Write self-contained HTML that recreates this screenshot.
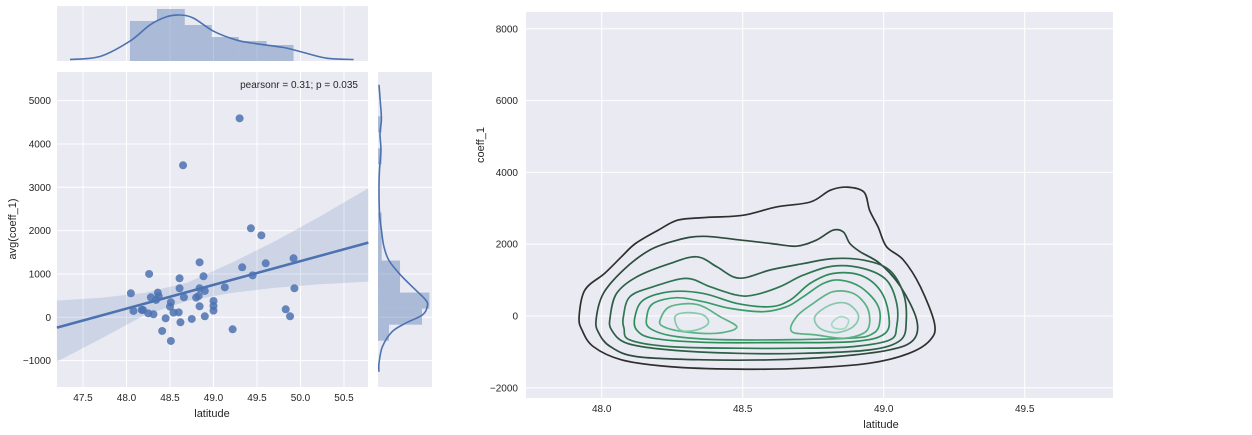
<!DOCTYPE html>
<html><head><meta charset="utf-8"><style>
body{margin:0;background:#fff;width:1252px;height:430px;overflow:hidden}
svg{font-family:"Liberation Sans",sans-serif;font-size:10px;fill:#262626}
</style></head><body>
<svg id="c" width="1252" height="430"></svg>
<script>
// ---- data ----
const scatterLat=[48.05,48.08,48.175,48.19,48.26,48.28,48.25,48.31,48.36,48.37,48.34,48.45,48.41,48.51,48.50,48.51,48.54,48.61,48.61,48.60,48.66,48.65,48.62,48.75,48.80,48.83,48.84,48.84,48.84,48.885,48.90,48.90,49.0,49.0,49.0,49.13,49.22,49.30,49.33,49.43,49.45,49.55,49.60,49.83,49.88,49.92,49.93];
const scatterVal=[554,146,169,169,1000,462,92,69,569,485,400,-23,-315,346,246,-546,108,900,669,115,462,3508,-115,-38,454,492,1269,669,254,946,608,23,377,262,154,692,-277,4592,1154,2054,969,1892,1246,185,23,1362,669];
const regLat=[47.2,47.7,48.2,48.7,49.2,49.7,50.2,50.78];
const regLine=[-238,36,310,584,858,1132,1406,1723];
const regUpper=[385,450,560,800,1250,1750,2300,2977];
const regLower=[-1023,-500,40,380,560,680,760,823];
const histXEdges=[48.04,48.35,48.67,48.98,49.29,49.61,49.92];
const histXCounts=[10,13,9,6,5,4];
const kdeXLat=[47.35,47.70,48.04,48.27,48.46,48.61,48.77,49.0,49.27,49.50,49.80,50.03,50.30,50.61];
const kdeXDen=[0.01,0.08,0.42,0.78,0.96,1,0.93,0.64,0.44,0.36,0.28,0.17,0.04,0.01];
const histYEdges=[-540,-170,200,570,940,1310,1680,2050,2420,2790,3160,3530,3900,4270,4640];
const histYCounts=[3,12,14,6,6,1,1,1,0,0,0,1,0,1];
const kdeYVal=[5365,4942,4557,4249,3864,3402,3016,2402,2016,1631,1323,1016,708,400,245,53,-139,-332,-679,-1062,-1256];
const kdeYDen=[0.01,0.04,0.06,0.03,0.05,0.02,0.01,0.02,0.06,0.11,0.21,0.42,0.69,0.97,1,0.90,0.55,0.28,0.08,0.01,0.01];
const xTicksL=[47.5,48.0,48.5,49.0,49.5,50.0,50.5];
const yTicksL=[-1000,0,1000,2000,3000,4000,5000];
const xTicksR=[48.0,48.5,49.0,49.5];
const yTicksR=[-2000,0,2000,4000,6000,8000];
const contourColors=['#2f2f2f','#2e4a3c','#2d5e46','#2e7550','#2f8a5a','#3a9d69','#5ab285','#86c8ab','#a6d9c4','#a6d9c4','#b4e0d0','#b4e0d0'];
const contours=[
[[47.92,-20],[47.94,720],[48.01,1185],[48.07,1650],[48.12,2020],[48.2,2390],[48.27,2670],[48.36,2740],[48.5,2805],[48.62,3040],[48.74,3175],[48.81,3500],[48.87,3590],[48.93,3450],[48.95,2945],[48.98,2480],[49.01,1930],[49.07,1560],[49.13,815],[49.18,-205],[49.165,-670],[49.09,-1040],[48.95,-1315],[48.72,-1455],[48.48,-1480],[48.24,-1410],[48.07,-1220],[47.97,-850],[47.93,-390]],
[[47.98,-110],[48.006,630],[48.077,1280],[48.17,1835],[48.266,2110],[48.36,2220],[48.5,2110],[48.6,2020],[48.69,1945],[48.76,2110],[48.82,2390],[48.857,2340],[48.88,2020],[48.916,1790],[48.987,1460],[49.06,815],[49.117,-110],[49.105,-670],[49.02,-945],[48.83,-1130],[48.6,-1220],[48.36,-1220],[48.124,-1130],[48.03,-850],[47.99,-480]],
[[48.03,-20],[48.053,630],[48.124,1090],[48.242,1460],[48.337,1650],[48.408,1370],[48.467,1090],[48.514,1075],[48.597,1280],[48.715,1460],[48.82,1600],[48.93,1555],[49.02,1280],[49.07,630],[49.08,-110],[49.06,-670],[48.95,-945],[48.715,-1040],[48.48,-1040],[48.24,-945],[48.09,-760],[48.035,-390]],
[[48.077,-20],[48.10,537],[48.183,815],[48.30,1046],[48.384,815],[48.479,583],[48.538,583],[48.632,815],[48.715,1139],[48.82,1389],[48.928,1324],[49.01,1000],[49.046,352],[49.046,-296],[49.022,-667],[48.892,-852],[48.715,-898],[48.479,-898],[48.242,-852],[48.10,-667],[48.079,-343]],
[[48.118,-20],[48.148,444],[48.242,676],[48.36,630],[48.479,352],[48.597,259],[48.668,444],[48.739,907],[48.82,1185],[48.916,1139],[48.987,722],[49.017,74],[49.005,-482],[48.892,-713],[48.597,-741],[48.36,-732],[48.183,-620],[48.124,-389]],
[[48.16,-20],[48.183,352],[48.266,509],[48.36,398],[48.455,213],[48.573,120],[48.656,259],[48.715,537],[48.786,907],[48.845,1000],[48.916,815],[48.975,352],[48.987,-111],[48.963,-482],[48.869,-620],[48.479,-667],[48.266,-574],[48.171,-343]],
[[48.207,-111],[48.242,259],[48.337,324],[48.42,-20],[48.479,-315],[48.408,-482],[48.29,-435],[48.219,-296]],
[[48.674,-435],[48.691,-20],[48.75,352],[48.82,676],[48.892,630],[48.94,259],[48.95,-204],[48.928,-482],[48.857,-620],[48.762,-528]],
[[48.26,-20],[48.30,93],[48.36,28],[48.378,-204],[48.337,-389],[48.278,-389]],
[[48.756,-20],[48.81,306],[48.869,352],[48.91,28],[48.892,-296],[48.833,-463],[48.774,-343]],
[[48.816,-204],[48.845,-20],[48.875,-111],[48.862,-343],[48.827,-343]]
];
const contourLevelIdx=[0,1,2,3,4,5,6,6,7,7,8];

// ---- helpers ----
const NS='http://www.w3.org/2000/svg';
const svg=document.getElementById('c');
function mk(tag,attrs,name,parent){
  const e=document.createElementNS(NS,tag);
  for(const k in attrs)e.setAttribute(k,attrs[k]);
  
  
  (parent||svg).appendChild(e);return e;
}
function txt(x,y,s,anchor,name,extra){const t=mk('text',Object.assign({x:x,y:y,'text-anchor':anchor||'middle'},extra||{}),name);t.textContent=s;return t;}
// main left axes
const L={x0:57,x1:368,y0:72,y1:387};
const lx=v=>83+(v-47.5)*87;
const ly=v=>317.3-v*0.04333;
// right axes
const R={x0:526,x1:1113,y0:12,y1:398};
const rx=v=>601.7+(v-48)*282;
const ry=v=>316-v*0.0359;

function frame(a,name){mk('rect',{x:a.x0,y:a.y0,width:a.x1-a.x0,height:a.y1-a.y0,fill:'#eaeaf2'},name);}
function smooth(pts,closed){
  const n=pts.length;let d='M'+pts[0][0].toFixed(1)+','+pts[0][1].toFixed(1);
  const get=i=>closed?pts[(i+n)%n]:pts[Math.max(0,Math.min(n-1,i))];
  const m=closed?n:n-1;
  for(let i=0;i<m;i++){const p0=get(i-1),p1=get(i),p2=get(i+1),p3=get(i+2);
    const c1=[p1[0]+(p2[0]-p0[0])/6,p1[1]+(p2[1]-p0[1])/6],c2=[p2[0]-(p3[0]-p1[0])/6,p2[1]-(p3[1]-p1[1])/6];
    d+='C'+c1[0].toFixed(1)+','+c1[1].toFixed(1)+' '+c2[0].toFixed(1)+','+c2[1].toFixed(1)+' '+p2[0].toFixed(1)+','+p2[1].toFixed(1);}
  return d+(closed?'Z':'');
}

// ---- left joint plot ----
frame(L,'scatter-axes-background');
xTicksL.forEach(v=>{mk('line',{x1:lx(v),x2:lx(v),y1:L.y0,y2:L.y1,stroke:'#fff','stroke-width':1},'x-gridline');
  txt(lx(v),401,v.toFixed(1),'middle','x-tick-label');});
yTicksL.forEach(v=>{mk('line',{x1:L.x0,x2:L.x1,y1:ly(v),y2:ly(v),stroke:'#fff','stroke-width':1},'y-gridline');
  txt(51,ly(v)+3.5,v<0?'\u2212'+Math.abs(v):String(v),'end','y-tick-label');});
// CI band
let band='M'+regLat.map((v,i)=>lx(v)+','+ly(regUpper[i])).join('L');
for(let i=regLat.length-1;i>=0;i--)band+='L'+lx(regLat[i])+','+ly(regLower[i]);
mk('path',{d:band+'Z',fill:'#4c72b0','fill-opacity':0.18},'confidence-band');
mk('path',{d:smooth(regLat.map((v,i)=>[lx(v),ly(regUpper[i])]),false),fill:'none'},'ci-upper');
scatterLat.forEach((v,i)=>{mk('circle',{cx:lx(v),cy:ly(scatterVal[i]),r:4,fill:'#4c72b0','fill-opacity':0.85},'scatter-point');});
mk('polyline',{points:regLat.map((v,i)=>lx(v)+','+ly(regLine[i])).join(' '),fill:'none',stroke:'#4c72b0','stroke-width':2.5},'regression-line');
txt(358,88,'pearsonr = 0.31; p = 0.035','end','pearson-annotation');
txt(212,417,'latitude','middle','x-axis-title',{'font-size':'11px'});
txt(16,229,'avg(coeff_1)','middle','y-axis-title',{'font-size':'11px',transform:'rotate(-90 16 229)'});

// top marginal
const T={x0:57,x1:368,y0:6,y1:61};
frame(T,'top-marginal-background');
xTicksL.forEach(v=>mk('line',{x1:lx(v),x2:lx(v),y1:T.y0,y2:T.y1,stroke:'#fff'},'top-marginal-gridline'));
histXCounts.forEach((c,i)=>{const h=c*4;mk('rect',{x:lx(histXEdges[i]),y:T.y1-h,width:lx(histXEdges[i+1])-lx(histXEdges[i]),height:h,fill:'#4c72b0','fill-opacity':0.4},'top-hist-bar');});
mk('path',{d:smooth(kdeXLat.map((v,i)=>[lx(v),T.y1-1-kdeXDen[i]*45]),false),fill:'none',stroke:'#4c72b0','stroke-width':1.6},'top-kde-curve');

// right marginal
const M={x0:378,x1:432,y0:72,y1:387};
frame(M,'right-marginal-background');
yTicksL.forEach(v=>mk('line',{x1:M.x0,x2:M.x1,y1:ly(v),y2:ly(v),stroke:'#fff'},'right-marginal-gridline'));
histYCounts.forEach((c,i)=>{if(!c)return;const w=c*3.67;mk('rect',{x:M.x0,y:ly(histYEdges[i+1]),width:w,height:ly(histYEdges[i])-ly(histYEdges[i+1]),fill:'#4c72b0','fill-opacity':0.4},'right-hist-bar');});
mk('path',{d:smooth(kdeYVal.map((v,i)=>[M.x0+0.5+kdeYDen[i]*48.7,ly(v)]),false),fill:'none',stroke:'#4c72b0','stroke-width':1.6},'right-kde-curve');

// ---- right kde contour plot ----
frame(R,'kde-axes-background');
xTicksR.forEach(v=>{mk('line',{x1:rx(v),x2:rx(v),y1:R.y0,y2:R.y1,stroke:'#fff'},'kde-x-gridline');
  txt(rx(v),412,v.toFixed(1),'middle','kde-x-tick-label');});
yTicksR.forEach(v=>{mk('line',{x1:R.x0,x2:R.x1,y1:ry(v),y2:ry(v),stroke:'#fff'},'kde-y-gridline');
  txt(518,ry(v)+3.5,v<0?'\u2212'+Math.abs(v):String(v),'end','kde-y-tick-label');});
contours.forEach((c,i)=>{mk('path',{d:smooth(c.map(p=>[rx(p[0]),ry(p[1])]),true),fill:'none',stroke:contourColors[contourLevelIdx[i]],'stroke-width':1.7},'contour-line');});
txt(881,428,'latitude','middle','kde-x-axis-title',{'font-size':'11px'});
txt(484,145,'coeff_1','middle','kde-y-axis-title',{'font-size':'11px',transform:'rotate(-90 484 145)'});
</script>
</body></html>
